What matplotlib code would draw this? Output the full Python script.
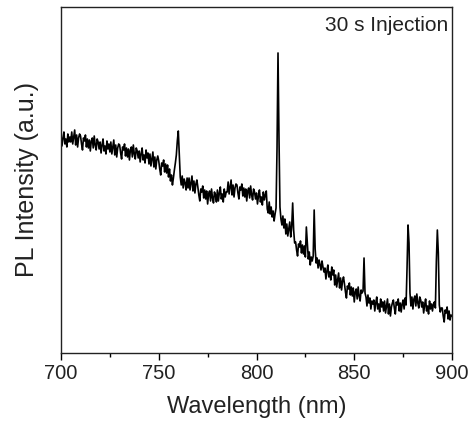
import numpy as np
import matplotlib.pyplot as plt

plt.rcParams['font.family'] = ['Liberation Sans', 'DejaVu Sans']

# PL spectrum, 0.5 nm steps from 700 nm (one row = 5 nm)
intensity = [
    218, 207, 215, 221, 209, 214, 206, 219, 211, 216,   # 700
    211, 221, 209, 216, 223, 208, 218, 206, 215, 219,   # 705
    217, 209, 203, 215, 212, 218, 206, 214, 205, 213,   # 710
    202, 212, 215, 205, 217, 208, 203, 214, 211, 204,   # 715
    211, 200, 208, 214, 202, 207, 199, 212, 204, 209,   # 720
    201, 211, 199, 206, 213, 198, 208, 196, 205, 209,   # 725
    208, 200, 194, 206, 203, 209, 197, 205, 196, 204,   # 730
    193, 203, 206, 196, 208, 199, 194, 205, 202, 195,   # 735
    202, 191, 199, 205, 193, 198, 190, 203, 195, 200,   # 740
    189, 199, 187, 194, 201, 186, 196, 184, 193, 197,   # 745
    192, 184, 178, 190, 187, 193, 181, 189, 180, 188,   # 750
    176, 184, 172, 178, 168, 175, 183, 190, 198, 212,   # 755
    222, 198, 176, 168, 177, 165, 174, 170, 163, 175,   # 760
    165, 175, 163, 170, 177, 162, 172, 160, 169, 173,   # 765
    166, 158, 152, 164, 161, 167, 155, 163, 154, 162,   # 770
    149, 159, 162, 152, 164, 155, 150, 161, 158, 151,   # 775
    163, 152, 160, 166, 154, 159, 151, 164, 156, 161,   # 780
    161, 171, 159, 166, 173, 158, 168, 156, 165, 169,   # 785
    168, 160, 154, 166, 163, 169, 157, 165, 156, 164,   # 790
    152, 162, 165, 155, 167, 158, 153, 164, 161, 154,   # 795
    160, 149, 157, 163, 151, 156, 148, 161, 153, 158,   # 800
    162, 144, 140, 151, 139, 146, 136, 142, 132, 139,   # 805
    145, 205, 300, 215, 146, 134, 128, 137, 125, 134,   # 810
    119, 129, 117, 124, 131, 116, 126, 150, 123, 110,   # 815
    111, 103, 97, 109, 106, 112, 100, 108, 99, 107,     # 820
    96, 126, 110, 94, 101, 88, 96, 92, 97, 143,         # 825
    104, 90, 95, 85, 93, 88, 83, 92, 86, 81,            # 830
    85, 74, 82, 88, 76, 81, 73, 86, 78, 83,             # 835
    68, 78, 66, 73, 80, 65, 75, 63, 72, 76,             # 840
    69, 61, 55, 67, 64, 70, 58, 66, 57, 65,             # 845
    51, 61, 64, 54, 66, 57, 52, 63, 60, 62,             # 850
    95, 60, 56, 47, 58, 50, 55, 44, 52, 49,             # 855
    53, 42, 50, 56, 44, 49, 41, 54, 46, 51,             # 860
    42, 52, 40, 47, 54, 39, 49, 37, 46, 50,             # 865
    53, 45, 39, 51, 48, 54, 42, 50, 41, 49,             # 870
    53, 44, 55, 48, 85, 128, 110, 60, 47, 56,           # 875
    44, 54, 57, 47, 59, 50, 45, 56, 53, 46,             # 880
    51, 40, 48, 54, 42, 47, 39, 52, 44, 49,             # 885
    42, 49, 51, 45, 92, 123, 100, 48, 41, 45,           # 890
    45, 37, 31, 43, 40, 46, 34, 42, 33, 38,             # 895
    37,                                                 # 900
]
wavelength = 700 + 0.5 * np.arange(len(intensity))

xticks = [700, 750, 800, 850, 900]
minor_xticks = [725, 775, 825, 875]

fig = plt.figure(figsize=(4.75, 4.23), dpi=100)
ax = fig.add_axes([0.1284, 0.1655, 0.8232, 0.818])

ax.plot(wavelength, intensity, color='black', lw=1.2)

ax.set_xlim(700, 900)
ax.set_ylim(0, 346)
ax.set_xticks(xticks)
ax.set_xticks(minor_xticks, minor=True)
ax.set_yticks([])
ax.tick_params(axis='x', which='major', direction='out', length=5, width=1,
               labelsize=14.5, pad=3, labelcolor='#222222')
ax.tick_params(axis='x', which='minor', direction='out', length=3, width=1)
for s in ax.spines.values():
    s.set_color('#222222')
    s.set_linewidth(1)

ax.set_xlabel('Wavelength (nm)', fontsize=17, labelpad=9, color='#222222')
ax.set_ylabel('PL Intensity (a.u.)', fontsize=18, labelpad=16, color='#222222')
ax.text(0.99, 0.975, '30 s Injection', transform=ax.transAxes,
        ha='right', va='top', fontsize=15, color='#222222')

fig.savefig('out.png', dpi=100)
